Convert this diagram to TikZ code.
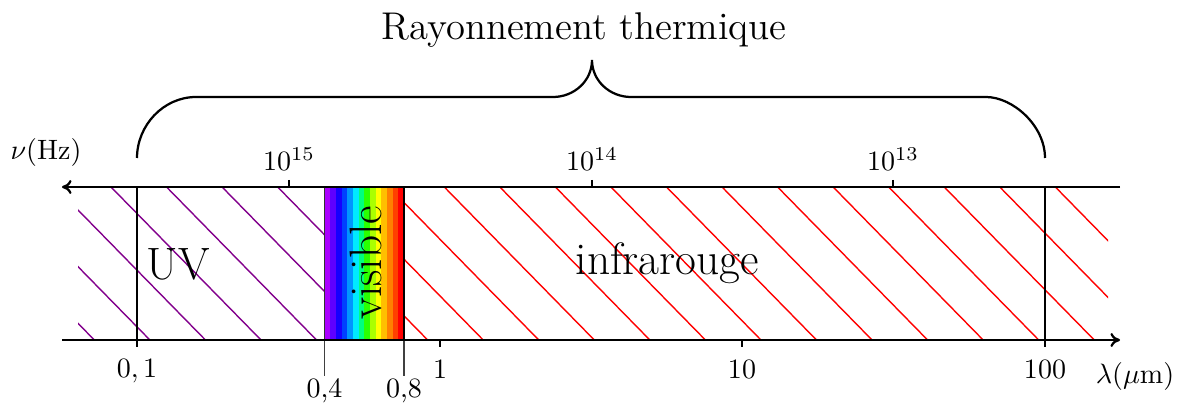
\documentclass[tikz,border=0pt]{standalone}
\usetikzlibrary{arrows.meta}
\begin{document}
\begin{tikzpicture}[x=0.357pt,y=-0.357pt,
  ax/.style={line width=0.8pt},
  axarrow/.style={ax,-{Computer Modern Rightarrow[length=3.4pt,width=5pt]}},
  hatchline/.style={line width=0.5pt},
  guide/.style={line width=0.4pt,black!75},
  lbl/.style={font=\fontsize{10}{12}\selectfont, inner sep=0pt, anchor=base},
  midlbl/.style={font=\fontsize{13.8}{17}\selectfont, inner sep=0pt, anchor=base},
  biglbl/.style={font=\fontsize{16.2}{19}\selectfont, inner sep=0pt, anchor=base}]
\useasboundingbox (0,0) rectangle (1185,403);
\definecolor{uvpurple}{RGB}{130,0,140}
% hatching
\begin{scope}
  \clip (78,187) rectangle (324.5,340);
  \foreach \k in {-4,...,4} \draw[hatchline,uvpurple] ({111+55.55*\k},187) -- ++(150,153);
\end{scope}
\begin{scope}
  \clip (404,187) rectangle (1108,340);
  \foreach \k in {2,...,18} \draw[hatchline,red] ({111+55.55*\k},187) -- ++(150,153);
\end{scope}
% visible spectrum
\foreach \h [count=\i from 0] in {280,262,245,225,205,185,150,110,80,60,45,30,15,0} {
  \definecolor{band}{Hsb}{\h,1,1}
  \fill[band] ({324.5+\i*5.68},187) rectangle ({324.5+(\i+1)*5.68+0.4},340);
}
\coordinate (vl) at (324.5,187); \coordinate (vlb) at (324.5,340); \coordinate (vle) at (324.5,376);
\coordinate (vr) at (404,187); \coordinate (vrb) at (404,340); \coordinate (vre) at (404,376);
\draw[line width=0.5pt,black!80] (vl) -- (vlb);
\draw[line width=0.8pt] (vr) -- (vrb);
\draw[guide] (vlb) -- (vle);
\draw[guide] (vrb) -- (vre);
% axes
\coordinate (tl) at (62,187); \coordinate (tr) at (1120,187);
\coordinate (bl) at (62,340); \coordinate (br) at (1120,340);
\draw[axarrow] (tr) -- (tl);
\draw[axarrow] (bl) -- (br);
% boundary lines
\coordinate (a1) at (137,187); \coordinate (a2) at (137,347);
\coordinate (b1) at (1045,187); \coordinate (b2) at (1045,347);
\draw[ax] (a1) -- (a2);
\draw[ax] (b1) -- (b2);
% ticks
\foreach \x in {289,592,893} \draw[ax] (\x,180) -- (\x,187);
\foreach \x in {440,742} \draw[ax] (\x,340) -- (\x,347);
% brace
\coordinate (brL) at (137,158); \coordinate (brR) at (1045,158); \coordinate (brT) at (592,60);
\draw[line width=0.8pt] (brL) .. controls (137,125.4) and (163.4,97) .. (196,97)
  -- (553,97) .. controls (574,97) and (592,81) .. (brT)
  .. controls (592,81) and (610,97) .. (631,97)
  -- (986,97) .. controls (1012.6,97) and (1045,125.4) .. (brR);
% labels
\node[midlbl] (ray) at (584,40) {Rayonnement thermique};
\node[lbl] (nu) at (46,160) {$\nu$(Hz)};
\node[lbl] (f15) at (289,171) {$10^{15}$};
\node[lbl] (f14) at (592,171) {$10^{14}$};
\node[lbl] (f13) at (893,171) {$10^{13}$};
\node[lbl] (l01) at (137,377) {$0,1$};
\node[lbl] (l1) at (440,378) {1};
\node[lbl] (l10) at (742,378) {10};
\node[lbl] (l100) at (1045,378) {100};
\node[lbl] (lam) at (1135,383) {$\lambda(\mu$m$)$};
\node[lbl] (l04) at (324.5,397) {0,4};
\node[lbl] (l08) at (404,397) {0,8};
\node[biglbl,anchor=base west] (uv) at (146,280) {UV};
\node[biglbl] (ir) at (667.5,275) {infrarouge};
\node[biglbl,rotate=90] (vis) at (381.5,263) {visible};
\end{tikzpicture}
\end{document}
